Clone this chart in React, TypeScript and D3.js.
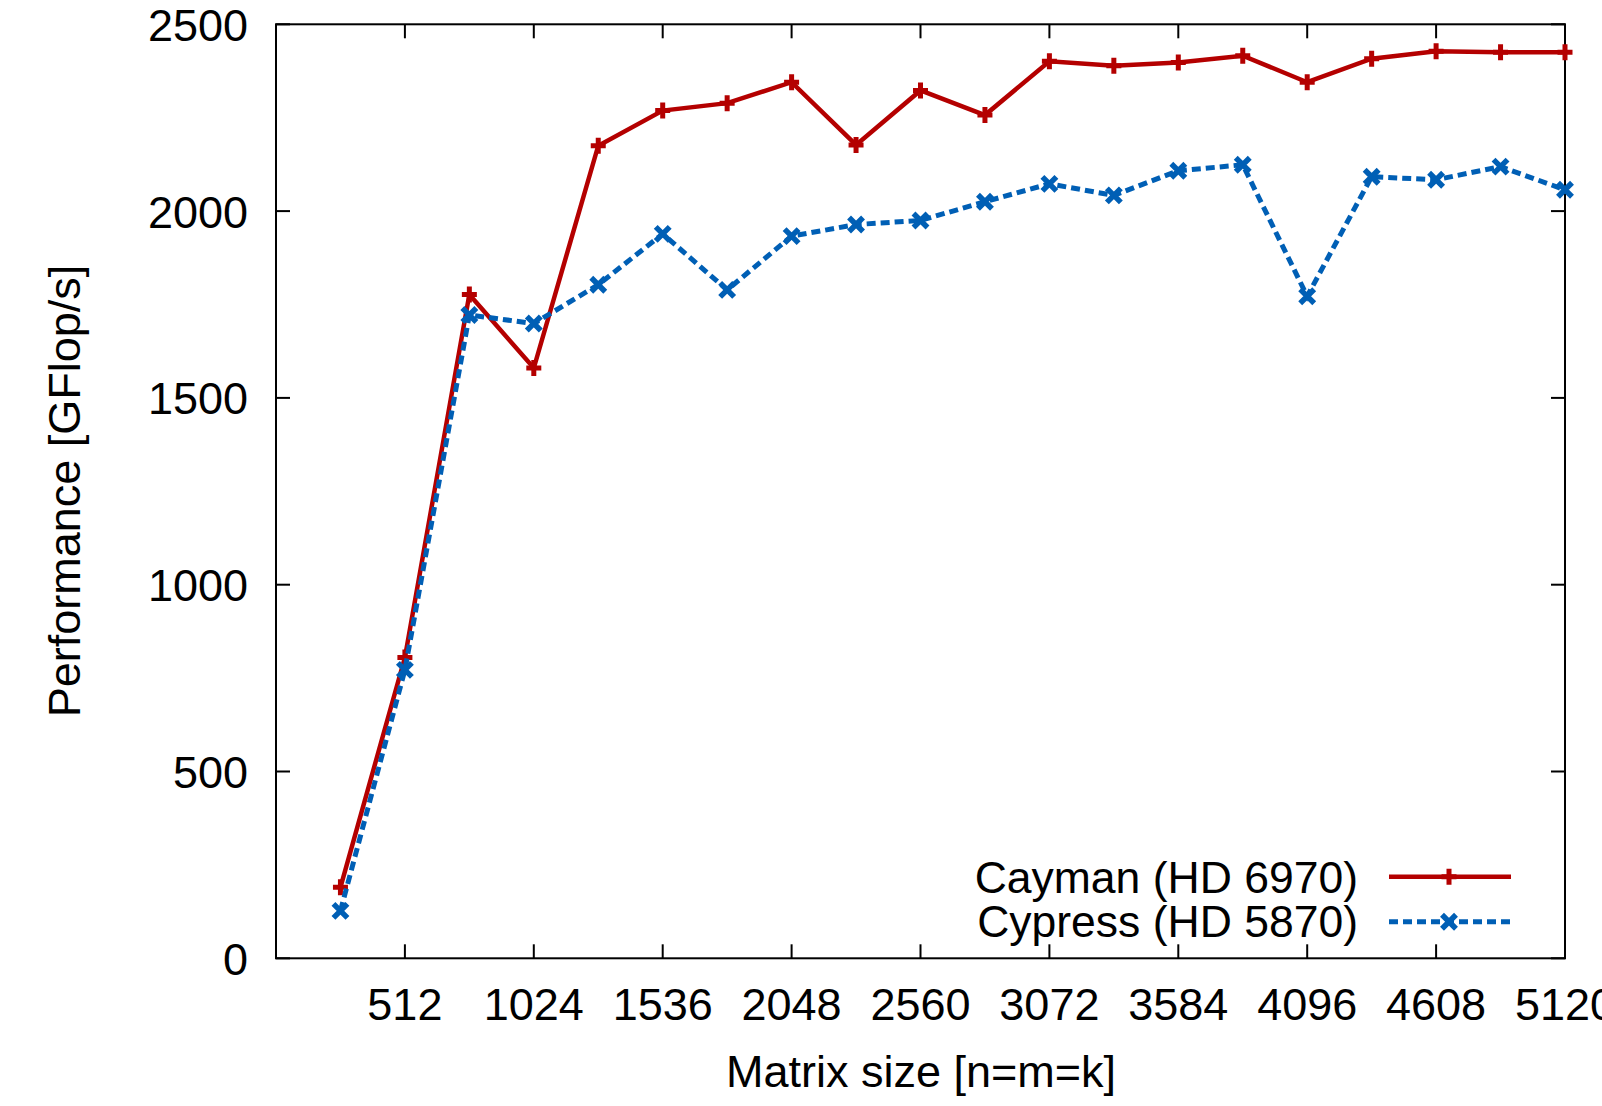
import React from "react";
import * as d3 from "d3";

const sizes = [256, 512, 768, 1024, 1280, 1536, 1792, 2048, 2304, 2560, 2816, 3072, 3328, 3584, 3840, 4096, 4352, 4608, 4864, 5120];
const cayman = [190, 805, 1777, 1580, 2175, 2269, 2289, 2345, 2177, 2323, 2257, 2401, 2389, 2398, 2416, 2345, 2408, 2428, 2425, 2425];
const cypress = [127, 772, 1722, 1699, 1803, 1939, 1789, 1933, 1964, 1975, 2025, 2073, 2042, 2108, 2124, 1772, 2092, 2084, 2119, 2057];
const xTicks = [512, 1024, 1536, 2048, 2560, 3072, 3584, 4096, 4608, 5120];
const yTicks = [0, 500, 1000, 1500, 2000, 2500];
const seriesNames = ["Cayman (HD 6970)", "Cypress (HD 5870)"];

const RED = "#b40000";
const BLUE = "#005fb5";
const FONT = "'Liberation Sans', Arial, Helvetica, sans-serif";

export default function App() {
  const W = 1602, H = 1106;
  const L = 276, R = 1565, T = 24.3, B = 958.3;
  const x = d3.scaleLinear().domain([0, 5120]).range([L, R]);
  const y = d3.scaleLinear().domain([0, 2500]).range([B, T]);
  const line = d3.line<[number, number]>().x(d => x(d[0])).y(d => y(d[1]));
  const redPts: [number, number][] = sizes.map((s, i) => [s, cayman[i]]);
  const bluePts: [number, number][] = sizes.map((s, i) => [s, cypress[i]]);
  const tickLen = 14;

  const plus = (cx: number, cy: number, k: string | number) => (
    <path key={k} d={`M${cx - 7.5},${cy}H${cx + 7.5}M${cx},${cy - 8}V${cy + 8}`} stroke={RED} strokeWidth={5} fill="none" />
  );
  const cross = (cx: number, cy: number, k: string | number) => (
    <path key={k} d={`M${cx - 7},${cy - 7}L${cx + 7},${cy + 7}M${cx - 7},${cy + 7}L${cx + 7},${cy - 7}`} stroke={BLUE} strokeWidth={5.5} fill="none" />
  );

  return (
    <svg width={W} height={H} style={{ position: "absolute", left: 0, top: 0, background: "#fff" }} fontFamily={FONT}>
      <rect x={0} y={0} width={W} height={H} fill="#fff" />
      {xTicks.map(t => (
        <g key={"xt" + t}>
          <line x1={x(t)} x2={x(t)} y1={B} y2={B - tickLen} stroke="#000" strokeWidth={2} />
          <line x1={x(t)} x2={x(t)} y1={T} y2={T + tickLen} stroke="#000" strokeWidth={2} />
          <text x={x(t)} y={1020} fontSize={45} textAnchor="middle" fill="#000">{t}</text>
        </g>
      ))}
      {yTicks.map(t => (
        <g key={"yt" + t}>
          <line x1={L} x2={L + tickLen} y1={y(t)} y2={y(t)} stroke="#000" strokeWidth={2} />
          <line x1={R} x2={R - tickLen} y1={y(t)} y2={y(t)} stroke="#000" strokeWidth={2} />
          <text x={248} y={y(t) + 16.5} fontSize={45} textAnchor="end" fill="#000">{t}</text>
        </g>
      ))}
      <rect x={L} y={T} width={R - L} height={B - T} fill="none" stroke="#000" strokeWidth={2} />
      <text x={921} y={1087} fontSize={45} textAnchor="middle" fill="#000">Matrix size [n=m=k]</text>
      <text transform={`translate(80,491) rotate(-90)`} fontSize={45} textAnchor="middle" fill="#000">Performance [GFlop/s]</text>
      <text x={1358} y={893} fontSize={44.5} textAnchor="end" fill="#000">{seriesNames[0]}</text>
      <text x={1358} y={937} fontSize={44.5} textAnchor="end" fill="#000">{seriesNames[1]}</text>
      <line x1={1389} x2={1511} y1={876.7} y2={876.7} stroke={RED} strokeWidth={4.5} />
      {plus(1449, 876.7, "lp")}
      <line x1={1389} x2={1511} y1={921.7} y2={921.7} stroke={BLUE} strokeWidth={5} strokeDasharray="9 5" />
      {cross(1449, 921.7, "lx")}
      <path d={line(redPts) || ""} fill="none" stroke={RED} strokeWidth={4.5} strokeLinejoin="miter" />
      {redPts.map((p, i) => plus(x(p[0]), y(p[1]), "r" + i))}
      <path d={line(bluePts) || ""} fill="none" stroke={BLUE} strokeWidth={5} strokeDasharray="9 5" />
      {bluePts.map((p, i) => cross(x(p[0]), y(p[1]), "b" + i))}
    </svg>
  );
}
